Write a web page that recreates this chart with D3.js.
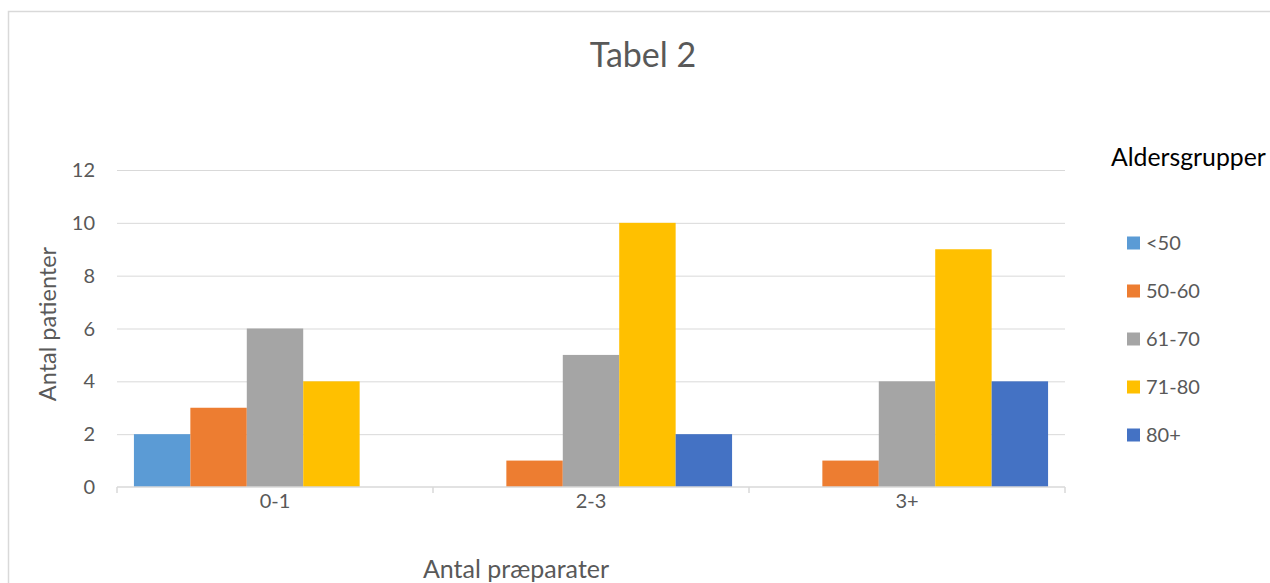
<!DOCTYPE html>
<html>
<head>
<meta charset="utf-8">
<script src="https://cdn.jsdelivr.net/npm/d3@7"></script>
<style>
  html, body { margin: 0; padding: 0; background: #fff; }
  svg { display: block; font-family: Lato, "Open Sans", sans-serif; }
</style>
</head>
<body>
<svg id="chart" width="1270" height="583"></svg>
<script>
// Number of preparations per patient (x categories)
const categories = ["0-1", "2-3", "3+"];
// Age groups (series)
const ageGroups = ["<50", "50-60", "61-70", "71-80", "80+"];
// Patient counts per age group, one value per category
const under50 = [2, 0, 0];
const age50to60 = [3, 1, 1];
const age61to70 = [6, 5, 4];
const age71to80 = [4, 10, 9];
const over80 = [0, 2, 4];
const yTicks = [0, 2, 4, 6, 8, 10, 12];
const seriesColors = ["#5B9BD5", "#ED7D31", "#A5A5A5", "#FFC000", "#4472C4"];

const seriesValues = [under50, age50to60, age61to70, age71to80, over80];

const svg = d3.select("#chart");
const W = 1270, H = 583;

// outer chart frame
svg.append("rect")
  .attr("x", 8.5).attr("y", 11.5)
  .attr("width", W + 10).attr("height", H + 10)
  .attr("fill", "#fff").attr("stroke", "#d9d9d9").attr("stroke-width", 1.5);

const plot = { left: 117, right: 1065, top: 170, bottom: 487 };

const x = d3.scaleBand().domain(categories).range([plot.left, plot.right]).paddingInner(0).paddingOuter(0);
const inner = d3.scaleBand().domain(ageGroups).range([0, x.bandwidth()]).paddingInner(0).paddingOuter(0.3);
const y = d3.scaleLinear().domain([0, 12]).range([plot.bottom, plot.top]);

// gridlines
svg.append("g")
  .selectAll("line").data(yTicks.filter(d => d > 0)).join("line")
  .attr("x1", plot.left).attr("x2", plot.right)
  .attr("y1", d => y(d) + 0.5).attr("y2", d => y(d) + 0.5)
  .attr("stroke", "#d9d9d9").attr("stroke-width", 1);

// y tick labels
svg.append("g")
  .selectAll("text").data(yTicks).join("text")
  .attr("x", 95).attr("y", d => y(d))
  .attr("dy", "0.35em")
  .attr("text-anchor", "end")
  .attr("fill", "#595959").attr("font-size", 20)
  .text(d => d);

// bars
const groups = svg.append("g").selectAll("g").data(categories).join("g")
  .attr("transform", c => `translate(${x(c)},0)`);
groups.selectAll("rect")
  .data((c, i) => ageGroups.map((g, k) => ({ g, k, v: seriesValues[k][i] })))
  .join("rect")
  .attr("x", d => inner(d.g))
  .attr("width", inner.bandwidth())
  .attr("y", d => y(d.v))
  .attr("height", d => y(0) - y(d.v))
  .attr("fill", d => seriesColors[d.k]);

// x axis line and tick marks
const xAxis = d3.axisBottom(x).tickSize(0).tickFormat(d => d);
const xg = svg.append("g").attr("transform", `translate(0,${plot.bottom})`).call(xAxis);
xg.select(".domain").attr("stroke", "#d9d9d9").attr("stroke-width", 1.5).attr("d", `M${plot.left},0H${plot.right}`);
xg.selectAll(".tick text").attr("dy", "0.35em").attr("y", 14).attr("font-size", 20).attr("fill", "#595959")
  .attr("font-family", "Lato, Open Sans, sans-serif");
const bounds = [plot.left, ...categories.map(c => x(c) + x.bandwidth())];
svg.append("g").selectAll("line").data(bounds).join("line")
  .attr("x1", d => d).attr("x2", d => d)
  .attr("y1", plot.bottom).attr("y2", plot.bottom + 6)
  .attr("stroke", "#d9d9d9").attr("stroke-width", 1.5);

// title
svg.append("text")
  .attr("x", 643).attr("y", 55).attr("dy", "0.35em")
  .attr("text-anchor", "middle").attr("font-size", 34).attr("fill", "#595959")
  .text("Tabel 2");

// axis titles
svg.append("text")
  .attr("transform", "translate(48,324) rotate(-90)")
  .attr("dy", "0.35em")
  .attr("text-anchor", "middle").attr("font-size", 23.5).attr("fill", "#595959")
  .text("Antal patienter");
svg.append("text")
  .attr("x", 516).attr("y", 569).attr("dy", "0.35em")
  .attr("text-anchor", "middle").attr("font-size", 25).attr("fill", "#595959")
  .text("Antal præparater");

// legend
const legend = svg.append("g");
legend.append("text")
  .attr("x", 1111).attr("y", 157).attr("dy", "0.35em")
  .attr("font-size", 24.8).attr("fill", "#000")
  .text("Aldersgrupper");
const items = legend.selectAll("g.item").data(ageGroups).join("g")
  .attr("class", "item")
  .attr("transform", (d, i) => `translate(1127,${243 + i * 48})`);
items.append("rect").attr("x", 0).attr("y", -6.5).attr("width", 13).attr("height", 13)
  .attr("fill", (d, i) => seriesColors[i]);
items.append("text").attr("x", 19).attr("dy", "0.35em")
  .attr("font-size", 20).attr("fill", "#595959")
  .text(d => d);
</script>
</body>
</html>
